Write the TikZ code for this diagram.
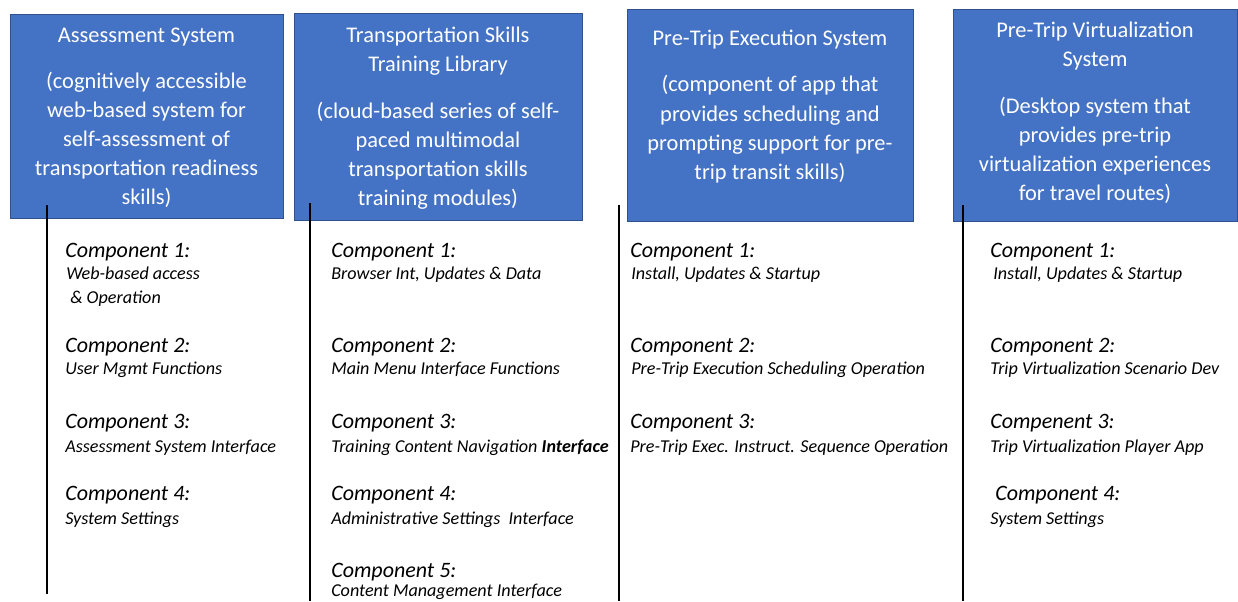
\documentclass[tikz,border=0pt]{standalone}
\usepackage{fontspec}
\setmainfont{Carlito}
\definecolor{boxblue}{HTML}{4472C4}
\definecolor{boxedge}{HTML}{2F528F}
\begin{document}
\begin{tikzpicture}[x=0.75pt,y=-0.75pt,
  sysbox/.style={draw=boxedge,fill=boxblue,line width=0.75pt,anchor=north west,inner sep=0pt},
  bt/.style={text=white,font=\fontsize{16.8}{20}\selectfont,anchor=base,inner sep=0pt},
  ct/.style={font=\fontsize{16.5}{20}\selectfont\itshape,anchor=base west,inner sep=0pt},
  st/.style={font=\fontsize{13.6}{16}\selectfont\itshape,anchor=base west,inner sep=0pt},
  vline/.style={draw=black,line width=1pt}]
\useasboundingbox (0,0) rectangle (1238,601);
% boxes
\node[sysbox,minimum width=273*0.75pt,minimum height=204*0.75pt] (b1) at (10,14) {};
\node[sysbox,minimum width=288*0.75pt,minimum height=207*0.75pt] (b2) at (294,13) {};
\node[sysbox,minimum width=286*0.75pt,minimum height=212*0.75pt] (b3) at (627,9) {};
\node[sysbox,minimum width=284*0.75pt,minimum height=212*0.75pt] (b4) at (953,9) {};
% box 1 text
\node[bt] (b1t1) at (146.5,42) {Assessment System};
\node[bt] (b1t2) at (146.5,88) {(cognitively accessible};
\node[bt] (b1t3) at (146.5,117) {web-based system for};
\node[bt] (b1t4) at (146.5,146) {self-assessment of};
\node[bt] (b1t5) at (146.5,175) {transportation readiness};
\node[bt] (b1t6) at (146.5,204) {skills)};
% box 2 text
\node[bt] (b2t1) at (438,42) {Transportation Skills};
\node[bt] (b2t2) at (438,71) {Training Library};
\node[bt] (b2t3) at (438,118) {(cloud-based series of self-};
\node[bt] (b2t4) at (438,147) {paced multimodal};
\node[bt] (b2t5) at (438,176) {transportation skills};
\node[bt] (b2t6) at (438,205) {training modules)};
% box 3 text
\node[bt] (b3t1) at (770,45) {Pre-Trip Execution System};
\node[bt] (b3t2) at (770,91) {(component of app that};
\node[bt] (b3t3) at (770,121) {provides scheduling and};
\node[bt] (b3t4) at (770,150) {prompting support for pre-};
\node[bt] (b3t5) at (770,179) {trip transit skills)};
% box 4 text
\node[bt] (b4t1) at (1095,37) {Pre-Trip Virtualization};
\node[bt] (b4t2) at (1095,66) {System};
\node[bt] (b4t3) at (1095,113) {(Desktop system that};
\node[bt] (b4t4) at (1095,142) {provides pre-trip};
\node[bt] (b4t5) at (1095,171) {virtualization experiences};
\node[bt] (b4t6) at (1095,200) {for travel routes)};
% vertical lines
\coordinate (l1a) at (47,205);  \coordinate (l1b) at (47,594);
\coordinate (l2a) at (310,203); \coordinate (l2b) at (310,601);
\coordinate (l3a) at (619,205); \coordinate (l3b) at (619,601);
\coordinate (l4a) at (963,205); \coordinate (l4b) at (963,601);
\draw[vline] (l1a) -- (l1b);
\draw[vline] (l2a) -- (l2b);
\draw[vline] (l3a) -- (l3b);
\draw[vline] (l4a) -- (l4b);
% column 1
\node[ct] (c1a) at (65,257) {Component 1:};
\node[st] (c1as) at (66,279) {Web-based access};
\node[st] (c1as2) at (70,303) {\& Operation};
\node[ct] (c1b) at (65,352) {Component 2:};
\node[st] (c1bs) at (65,374) {User Mgmt Functions};
\node[ct] (c1c) at (65,428) {Component 3:};
\node[st] (c1cs) at (65,452) {Assessment System Interface};
\node[ct] (c1d) at (65,500) {Component 4:};
\node[st] (c1ds) at (65,524) {System Settings};
% column 2
\node[ct] (c2a) at (331,257) {Component 1:};
\node[st] (c2as) at (331,279) {Browser Int, Updates \& Data};
\node[ct] (c2b) at (331,352) {Component 2:};
\node[st] (c2bs) at (331,374) {Main Menu Interface Functions};
\node[ct] (c2c) at (331,428) {Component 3:};
\node[st] (c2cs) at (331,452) {Training Content Navigation \textbf{Interface}};
\node[ct] (c2d) at (331,500) {Component 4:};
\node[st] (c2ds) at (331,524) {Administrative Settings\ \ Interface};
\node[ct] (c2e) at (331,577) {Component 5:};
\node[st] (c2es) at (331,596) {Content Management Interface};
% column 3
\node[ct] (c3a) at (630,257) {Component 1:};
\node[st] (c3as) at (631,279) {Install, Updates \& Startup};
\node[ct] (c3b) at (630,352) {Component 2:};
\node[st] (c3bs) at (631,374) {Pre-Trip Execution Scheduling Operation};
\node[ct] (c3c) at (630,428) {Component 3:};
\node[st] (c3cs) at (630,452) {Pre-Trip Exec. Instruct. Sequence Operation};
% column 4
\node[ct] (c4a) at (990,257) {Component 1:};
\node[st] (c4as) at (993,279) {Install, Updates \& Startup};
\node[ct] (c4b) at (990,352) {Component 2:};
\node[st] (c4bs) at (990,374) {Trip Virtualization Scenario Dev};
\node[ct] (c4c) at (990,428) {Compenent 3:};
\node[st] (c4cs) at (990,452) {Trip Virtualization Player App};
\node[ct] (c4d) at (995,500) {Component 4:};
\node[st] (c4ds) at (990,524) {System Settings};
\end{tikzpicture}
\end{document}
